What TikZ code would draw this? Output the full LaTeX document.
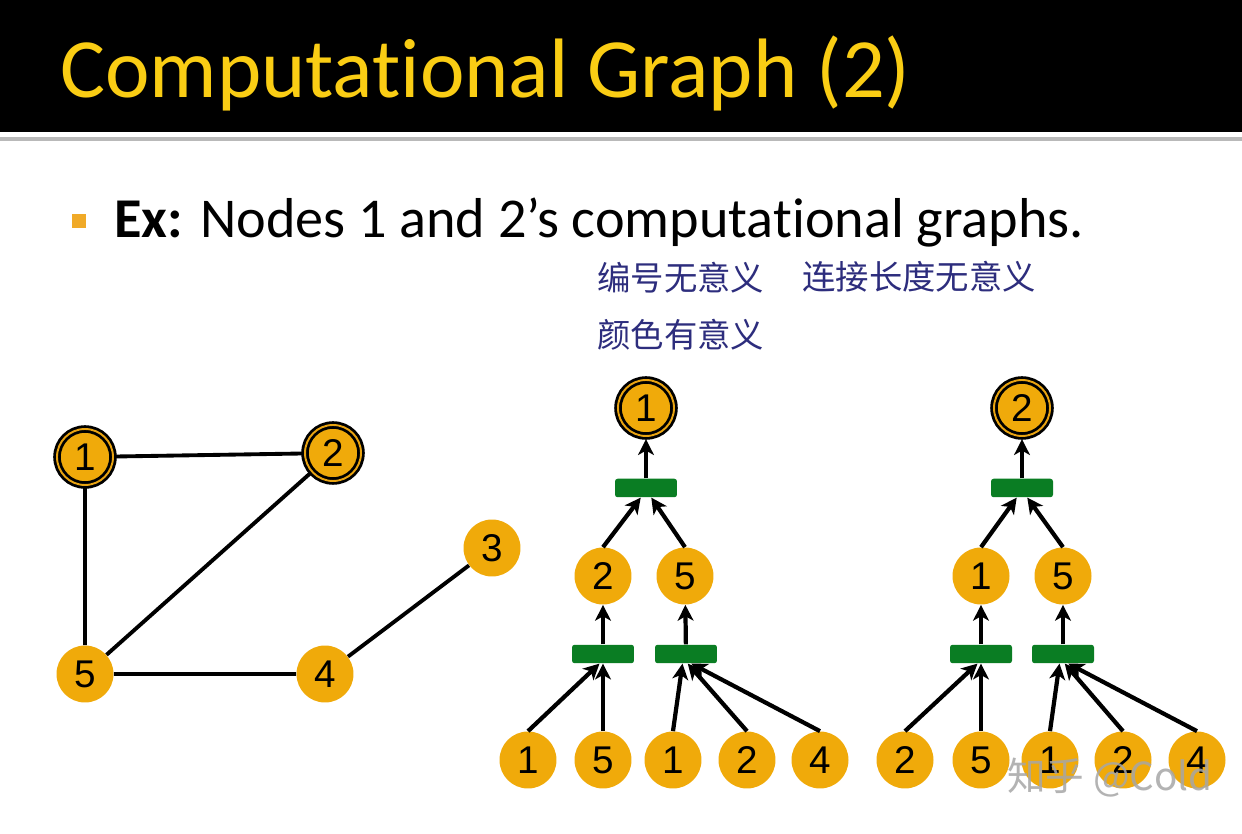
\documentclass[tikz,border=0pt]{standalone}
\usepackage{fontspec}
\setmainfont{Carlito}[Ligatures={TeX,NoCommon,NoRare,NoContextual}]
\newfontfamily\nodefont{Liberation Sans}
\newfontfamily\cjk{Noto Sans CJK SC}
\usetikzlibrary{arrows.meta,positioning}
\definecolor{nodeorange}{RGB}{240,170,10}
\definecolor{bargreen}{RGB}{10,125,35}
\definecolor{titleyellow}{RGB}{250,205,20}
\definecolor{bulletorange}{RGB}{240,170,40}
\definecolor{inkblue}{RGB}{45,45,125}

\begin{document}
\begin{tikzpicture}[x=0.02cm, y=-0.02cm,
  vert/.style={circle, fill=nodeorange, minimum size=1.14cm, inner sep=0pt, font=\nodefont\fontsize{22}{22}\selectfont},
  root/.style={vert, minimum size=1.12cm, draw=black, line width=1.6pt, double=nodeorange!85!brown, double distance=1.1pt},
  agg/.style={rectangle, fill=bargreen, rounded corners=1.5pt, minimum width=1.24cm, minimum height=0.37cm, inner sep=0pt},
  link/.style={line width=2.2pt},
  arr/.style={line width=2.4pt, -{Stealth[length=9pt,width=9pt,inset=2.5pt]}},
  note/.style={anchor=west, inner sep=0pt, text=inkblue, font=\cjk\fontsize{19}{20}\selectfont}
]
\useasboundingbox (0,0) rectangle (1242,834);
\fill[white] (0,0) rectangle (1242,834);
\fill[black] (0,0) rectangle (1242,132);
\draw[gray!55, line width=2.2pt] (0,139) -- (1242,139);

\node[anchor=base west, inner sep=0pt, text=titleyellow, font=\fontsize{48}{48}\selectfont] (title) at (60,98) {Computational Graph (2)};
\node[fill=bulletorange, minimum size=0.28cm, inner sep=0pt] (bullet) at (79,221) {};
\node[anchor=base west, inner sep=0pt, font=\fontsize{32}{32}\selectfont] (ex) at (114,238) {\textbf{Ex:} Nodes 1 and 2's computational graphs.};

\node[note] (n1) at (597,278) {编号无意义};
\node[note] (n2) at (802,277) {连接长度无意义};
\node[note] (n3) at (597,335) {颜色有意义};

\node[root] (g1) at (85,457) {1};
\node[root] (g2) at (333,453) {2};
\node[vert] (g3) at (492,548) {3};
\node[vert] (g4) at (325,674) {4};
\node[vert] (g5) at (85,674) {5};
\draw[link] (g1) -- (g2) (g1) -- (g5) (g2) -- (g5) (g5) -- (g4) (g4) -- (g3);

\node[root] (a0) at (646,408) {1};
\node[agg] (a0b) at (646,488) {};
\node[vert] (a1) at (603,576) {2};
\node[vert] (a2) at (685,576) {5};
\node[agg] (a1b) at (603,654) {};
\node[agg] (a2b) at (686,654) {};
\foreach \n/\x/\lbl in {1/528/1, 2/603/5, 3/673/1, 4/747/2, 5/820/4} {\node[vert] (al\n) at (\x,760) {\lbl};}
\draw[arr, shorten >=1pt] (a0b) -- (a0);
\draw[arr] (a1.north) -- ([xshift=-3pt]a0b.south);
\draw[arr] (a2.north) -- ([xshift=3pt]a0b.south);
\draw[arr] (a1b) -- (a1);
\draw[arr] (a2b) -- (a2);
\draw[arr] (al1.north) -- ([xshift=-2pt]a1b.south);
\draw[arr] (al2.north) -- (a1b.south);
\draw[arr] (al3.north) -- ([xshift=-2pt]a2b.south);
\draw[arr] (al4.north) -- ([xshift=1pt]a2b.south);
\draw[arr] (al5.north) -- ([xshift=3pt]a2b.south);

\node[root] (b0) at (1022,408) {2};
\node[agg] (b0b) at (1022,488) {};
\node[vert] (b1) at (981,576) {1};
\node[vert] (b2) at (1063,576) {5};
\node[agg] (b1b) at (981,654) {};
\node[agg] (b2b) at (1063,654) {};
\foreach \n/\x/\lbl in {1/905/2, 2/981/5, 3/1050/1, 4/1123/2, 5/1197/4} {\node[vert] (bl\n) at (\x,760) {\lbl};}
\draw[arr, shorten >=1pt] (b0b) -- (b0);
\draw[arr] (b1.north) -- ([xshift=-3pt]b0b.south);
\draw[arr] (b2.north) -- ([xshift=3pt]b0b.south);
\draw[arr] (b1b) -- (b1);
\draw[arr] (b2b) -- (b2);
\draw[arr] (bl1.north) -- ([xshift=-2pt]b1b.south);
\draw[arr] (bl2.north) -- (b1b.south);
\draw[arr] (bl3.north) -- ([xshift=-2pt]b2b.south);
\draw[arr] (bl4.north) -- ([xshift=1pt]b2b.south);
\draw[arr] (bl5.north) -- ([xshift=3pt]b2b.south);

\node[text=gray!70, opacity=0.85, font=\cjk\fontsize{22}{22}\selectfont] (mark) at (1110,778) {知乎 @Cold};
\end{tikzpicture}
\end{document}
